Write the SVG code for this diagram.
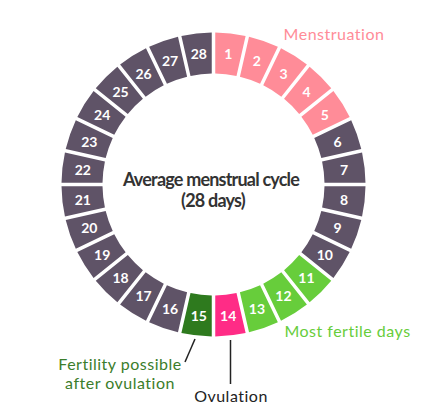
<svg xmlns="http://www.w3.org/2000/svg" xmlns:xlink="http://www.w3.org/1999/xlink" width="446" height="415" viewBox="0 0 446 415">
<style>
.dark{fill:#5f5367}
.pink{fill:#ff8c98}
.hot{fill:#ff2c86}
.lg{fill:#67cd3b}
.dg{fill:#2e7a1e}
.num{font-family:Lato,"DejaVu Sans",sans-serif;font-weight:bold;font-size:14px;fill:#ffffff;text-anchor:middle;dominant-baseline:central}
.lbl{font-family:Lato,"DejaVu Sans",sans-serif;font-size:16px;text-anchor:middle;letter-spacing:0.5px}
.title{font-family:Lato,"DejaVu Sans",sans-serif;font-weight:bold;font-size:18px;fill:#333333;text-anchor:middle;letter-spacing:-0.8px}
.lead{stroke:#222222;stroke-width:1.5;fill:none}
</style>
<defs>
<path id="seg" d="M1.75,-151.99 A152,152 0 0 1 32.115,-148.569 L22.991,-108.593 A111,111 0 0 0 1.75,-110.986 Z"/>
</defs>
<g id="day1" transform="translate(213.5,184.5) rotate(0)"><use xlink:href="#seg" class="pink"/><text class="num" transform="rotate(6.429) translate(0,-131.5) rotate(-6.429)">1</text></g>
<g id="day2" transform="translate(213.5,184.5) rotate(12.857)"><use xlink:href="#seg" class="pink"/><text class="num" transform="rotate(6.429) translate(0,-131.5) rotate(-19.286)">2</text></g>
<g id="day3" transform="translate(213.5,184.5) rotate(25.714)"><use xlink:href="#seg" class="pink"/><text class="num" transform="rotate(6.429) translate(0,-131.5) rotate(-32.143)">3</text></g>
<g id="day4" transform="translate(213.5,184.5) rotate(38.571)"><use xlink:href="#seg" class="pink"/><text class="num" transform="rotate(6.429) translate(0,-131.5) rotate(-45)">4</text></g>
<g id="day5" transform="translate(213.5,184.5) rotate(51.429)"><use xlink:href="#seg" class="pink"/><text class="num" transform="rotate(6.429) translate(0,-131.5) rotate(-57.857)">5</text></g>
<g id="day6" transform="translate(213.5,184.5) rotate(64.286)"><use xlink:href="#seg" class="dark"/><text class="num" transform="rotate(6.429) translate(0,-131.5) rotate(-70.714)">6</text></g>
<g id="day7" transform="translate(213.5,184.5) rotate(77.143)"><use xlink:href="#seg" class="dark"/><text class="num" transform="rotate(6.429) translate(0,-131.5) rotate(-83.571)">7</text></g>
<g id="day8" transform="translate(213.5,184.5) rotate(90)"><use xlink:href="#seg" class="dark"/><text class="num" transform="rotate(6.429) translate(0,-131.5) rotate(-96.429)">8</text></g>
<g id="day9" transform="translate(213.5,184.5) rotate(102.857)"><use xlink:href="#seg" class="dark"/><text class="num" transform="rotate(6.429) translate(0,-131.5) rotate(-109.286)">9</text></g>
<g id="day10" transform="translate(213.5,184.5) rotate(115.714)"><use xlink:href="#seg" class="dark"/><text class="num" transform="rotate(6.429) translate(0,-131.5) rotate(-122.143)">10</text></g>
<g id="day11" transform="translate(213.5,184.5) rotate(128.571)"><use xlink:href="#seg" class="lg"/><text class="num" transform="rotate(6.429) translate(0,-131.5) rotate(-135)">11</text></g>
<g id="day12" transform="translate(213.5,184.5) rotate(141.429)"><use xlink:href="#seg" class="lg"/><text class="num" transform="rotate(6.429) translate(0,-131.5) rotate(-147.857)">12</text></g>
<g id="day13" transform="translate(213.5,184.5) rotate(154.286)"><use xlink:href="#seg" class="lg"/><text class="num" transform="rotate(6.429) translate(0,-131.5) rotate(-160.714)">13</text></g>
<g id="day14" transform="translate(213.5,184.5) rotate(167.143)"><use xlink:href="#seg" class="hot"/><text class="num" transform="rotate(6.429) translate(0,-131.5) rotate(-173.571)">14</text></g>
<g id="day15" transform="translate(213.5,184.5) rotate(180)"><use xlink:href="#seg" class="dg"/><text class="num" transform="rotate(6.429) translate(0,-131.5) rotate(-186.429)">15</text></g>
<g id="day16" transform="translate(213.5,184.5) rotate(192.857)"><use xlink:href="#seg" class="dark"/><text class="num" transform="rotate(6.429) translate(0,-131.5) rotate(-199.286)">16</text></g>
<g id="day17" transform="translate(213.5,184.5) rotate(205.714)"><use xlink:href="#seg" class="dark"/><text class="num" transform="rotate(6.429) translate(0,-131.5) rotate(-212.143)">17</text></g>
<g id="day18" transform="translate(213.5,184.5) rotate(218.571)"><use xlink:href="#seg" class="dark"/><text class="num" transform="rotate(6.429) translate(0,-131.5) rotate(-225)">18</text></g>
<g id="day19" transform="translate(213.5,184.5) rotate(231.429)"><use xlink:href="#seg" class="dark"/><text class="num" transform="rotate(6.429) translate(0,-131.5) rotate(-237.857)">19</text></g>
<g id="day20" transform="translate(213.5,184.5) rotate(244.286)"><use xlink:href="#seg" class="dark"/><text class="num" transform="rotate(6.429) translate(0,-131.5) rotate(-250.714)">20</text></g>
<g id="day21" transform="translate(213.5,184.5) rotate(257.143)"><use xlink:href="#seg" class="dark"/><text class="num" transform="rotate(6.429) translate(0,-131.5) rotate(-263.571)">21</text></g>
<g id="day22" transform="translate(213.5,184.5) rotate(270)"><use xlink:href="#seg" class="dark"/><text class="num" transform="rotate(6.429) translate(0,-131.5) rotate(-276.429)">22</text></g>
<g id="day23" transform="translate(213.5,184.5) rotate(282.857)"><use xlink:href="#seg" class="dark"/><text class="num" transform="rotate(6.429) translate(0,-131.5) rotate(-289.286)">23</text></g>
<g id="day24" transform="translate(213.5,184.5) rotate(295.714)"><use xlink:href="#seg" class="dark"/><text class="num" transform="rotate(6.429) translate(0,-131.5) rotate(-302.143)">24</text></g>
<g id="day25" transform="translate(213.5,184.5) rotate(308.571)"><use xlink:href="#seg" class="dark"/><text class="num" transform="rotate(6.429) translate(0,-131.5) rotate(-315)">25</text></g>
<g id="day26" transform="translate(213.5,184.5) rotate(321.429)"><use xlink:href="#seg" class="dark"/><text class="num" transform="rotate(6.429) translate(0,-131.5) rotate(-327.857)">26</text></g>
<g id="day27" transform="translate(213.5,184.5) rotate(334.286)"><use xlink:href="#seg" class="dark"/><text class="num" transform="rotate(6.429) translate(0,-131.5) rotate(-340.714)">27</text></g>
<g id="day28" transform="translate(213.5,184.5) rotate(347.143)"><use xlink:href="#seg" class="dark"/><text class="num" transform="rotate(6.429) translate(0,-131.5) rotate(-353.571)">28</text></g>
<g id="title">
<text class="title" x="211" y="186">Average menstrual cycle</text>
<text class="title" x="213" y="207">(28 days)</text>
</g>
<g id="connectors">
<line class="lead" x1="195" y1="339" x2="185" y2="362"/>
<line class="lead" x1="230.5" y1="340" x2="230.5" y2="384"/>
</g>
<g id="labels">
<text id="menstruation" class="lbl" x="334" y="40" fill="#ff8c98">Menstruation</text>
<text id="fertile" class="lbl" x="347.5" y="337" fill="#67cd3b">Most fertile days</text>
<text id="possible" class="lbl" fill="#3b7d2b"><tspan x="120" y="370">Fertility possible</tspan><tspan x="120" y="389">after ovulation</tspan></text>
<text id="ovulation" class="lbl" x="231" y="402" fill="#222222">Ovulation</text>
</g>
</svg>
